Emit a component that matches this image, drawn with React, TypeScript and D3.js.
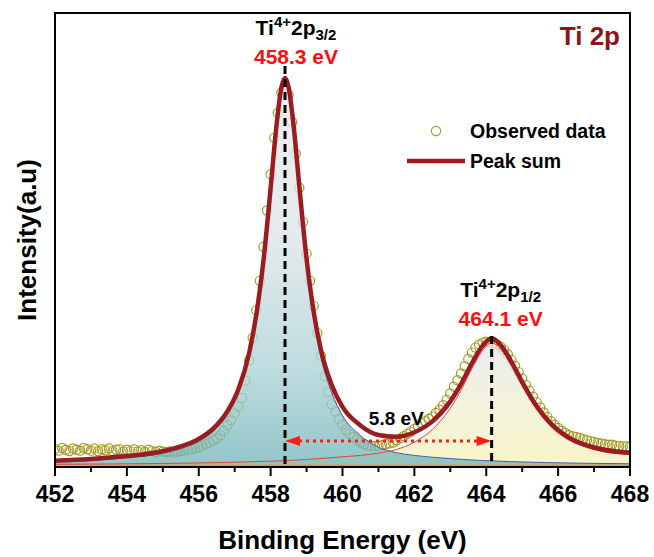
import React from 'react'
import * as d3 from 'd3'

// observed XPS counts, sampled every 0.1 eV from 452 eV
const obsStart = 452
const obsStep = 0.1
const observed = [
  4.0, 3.6, 4.2, 3.8, 3.5, 4.1, 3.8, 3.6, 4.2, 3.9,
  3.6, 4.1, 3.5, 3.9, 3.7, 4.1, 3.5, 3.8, 3.9, 3.4,
  3.8, 3.5, 3.9, 3.4, 3.7, 3.3, 3.8, 3.5, 3.3, 3.6,
  3.4, 3.3, 3.4, 3.2, 3.4, 3.5, 3.6, 3.8, 3.9, 4.1,
  4.4, 4.7, 5.0, 5.4, 5.9, 6.3, 7.0, 8.0, 9.2, 10.3,
  11.8, 13.3, 15.2, 19.0, 23.5, 28.5, 34.5, 41.0, 48.5, 56.5,
  64.5, 72.5, 78.0, 82.5, 84.0, 82.0, 76.0, 69.0, 61.5, 54.0,
  47.0, 41.0, 35.5, 29.5, 24.5, 20.0, 16.5, 13.8, 12.2, 10.6,
  9.3, 8.2, 7.3, 6.6, 5.9, 5.4, 5.0, 4.7, 4.6, 4.6,
  4.7, 4.8, 5.0, 5.2, 5.4, 5.9, 6.3, 6.8, 7.3, 7.8,
  8.4, 9.0, 9.6, 10.1, 10.6, 11.1, 11.9, 12.6, 13.6, 14.8,
  16.2, 17.7, 19.1, 20.6, 22.2, 23.8, 25.2, 26.3, 27.0, 27.4,
  27.6, 27.5, 27.3, 27.0, 26.5, 25.8, 24.8, 23.6, 22.3, 20.9,
  19.5, 18.1, 16.8, 15.5, 14.3, 13.1, 12.0, 11.0, 10.1, 9.3,
  8.6, 8.0, 7.5, 7.0, 6.8, 6.6, 6.4, 6.1, 5.9, 5.7,
  5.5, 5.3, 5.2, 5.0, 4.9, 4.9, 4.7, 4.6, 4.5, 4.5,
  4.4,
]

// fitted components
const compEnergy = [
  452, 453, 454, 455, 455.5, 456, 456.4, 456.8, 457.1, 457.4, 457.6, 457.8,
  458.0, 458.15, 458.3, 458.4, 458.5, 458.65, 458.8, 459.0, 459.2, 459.4,
  459.7, 460.0, 460.5, 461, 461.5, 462, 462.5, 463, 463.3, 463.6, 463.9,
  464.15, 464.4, 464.7, 465, 465.4, 465.8, 466.3, 467, 468,
]
const peak32 = [
  0.8, 1.1, 1.7, 2.7, 3.7, 5.3, 7.5, 11.3, 16.0, 23.9, 32.3, 44.2,
  60.1, 72.9, 82.2, 84.3, 82.2, 72.9, 60.1, 44.2, 32.3, 23.9,
  16.0, 11.0, 6.6, 4.0, 2.8, 2.2, 1.8, 1.5, 1.35, 1.2, 1.08,
  1.0, 0.92, 0.83, 0.76, 0.68, 0.61, 0.53, 0.45, 0.36,
]
const peak12 = [
  0.25, 0.29, 0.35, 0.43, 0.48, 0.54, 0.6, 0.66, 0.72, 0.78, 0.83, 0.88,
  0.93, 0.98, 1.03, 1.06, 1.1, 1.16, 1.22, 1.31, 1.42, 1.53,
  1.7, 1.9, 2.2, 2.7, 3.5, 5.1, 7.9, 12.6, 16.6, 21.3, 25.3,
  27.0, 25.6, 22.0, 17.6, 12.4, 8.6, 5.6, 3.5, 2.4,
]
const baselineLevel = 0.35

const majorTicks = [452, 454, 456, 458, 460, 462, 464, 466, 468]
const minorTicks = [453, 455, 457, 459, 461, 463, 465, 467]

const peakLabels = [
  { center: 458.4, sub: '3/2', value: '458.3 eV', top: 66, nameY: 35, valueY: 64, dx: 11 },
  { center: 464.15, sub: '1/2', value: '464.1 eV', top: 336, nameY: 297, valueY: 326, dx: 9 },
]
const splitting = '5.8 eV'

const W = 654
const H = 557
const left = 55
const right = 630
const top = 13
const bottom = 467
const font = 'Arial, "Liberation Sans", sans-serif'

export default function App() {
  const x = d3.scaleLinear().domain([452, 468]).range([left, right])
  const y = d3.scaleLinear().domain([0, 100]).range([bottom, top])

  const obsPoints = observed.map((v, i) => ({ e: obsStart + i * obsStep, v }))
  const comps = compEnergy.map((e, i) => ({ e, a: peak32[i], b: peak12[i] }))

  const areaA = d3
    .area<any>()
    .x((d) => x(d.e))
    .y0(y(baselineLevel))
    .y1((d) => y(baselineLevel + d.a))
    .curve(d3.curveMonotoneX)
  const areaB = d3
    .area<any>()
    .x((d) => x(d.e))
    .y0(y(baselineLevel))
    .y1((d) => y(baselineLevel + d.b))
    .curve(d3.curveMonotoneX)
  const lineA = d3
    .line<any>()
    .x((d) => x(d.e))
    .y((d) => y(baselineLevel + d.a))
    .curve(d3.curveMonotoneX)
  const lineB = d3
    .line<any>()
    .x((d) => x(d.e))
    .y((d) => y(baselineLevel + d.b))
    .curve(d3.curveMonotoneX)
  const sumLine = d3
    .line<any>()
    .x((d) => x(d.e))
    .y((d) => y(baselineLevel + d.a + d.b))
    .curve(d3.curveMonotoneX)

  const xa = x(peakLabels[0].center)
  const xb = x(peakLabels[1].center)
  const arrowY = 441

  return (
    <svg
      width={W}
      height={H}
      style={{ position: 'absolute', left: 0, top: 0, background: '#fff' }}
      fontFamily={font}
      fontWeight="bold"
    >
      <defs>
        <clipPath id="plot">
          <rect x={left} y={top} width={right - left} height={bottom - top} />
        </clipPath>
        <linearGradient id="g32" gradientUnits="userSpaceOnUse" x1="0" y1="80" x2="0" y2={bottom}>
          <stop offset="0" stopColor="#ebebee" />
          <stop offset="0.4" stopColor="#dde4e7" />
          <stop offset="0.75" stopColor="#acd2d5" />
          <stop offset="1" stopColor="#74b5ba" />
        </linearGradient>
        <linearGradient id="g12" gradientUnits="userSpaceOnUse" x1="0" y1="338" x2="0" y2={bottom}>
          <stop offset="0" stopColor="#e2e4ee" />
          <stop offset="0.45" stopColor="#eeeed4" />
          <stop offset="1" stopColor="#f6f1b6" />
        </linearGradient>
      </defs>

      <g clipPath="url(#plot)">
        {obsPoints.map((d, i) => (
          <circle
            key={i}
            cx={x(d.e)}
            cy={y(d.v)}
            r={4.6}
            fill="none"
            stroke="#a49a22"
            strokeWidth={1.2}
          />
        ))}
        <path d={areaB(comps) || ''} fill="url(#g12)" opacity={0.75} />
        <path d={areaA(comps) || ''} fill="url(#g32)" opacity={0.78} />
        <line x1={left} x2={right} y1={y(baselineLevel)} y2={y(baselineLevel)} stroke="#e89c35" strokeWidth={1.6} />
        <path d={lineB(comps) || ''} fill="none" stroke="#e8413c" strokeWidth={1} />
        <path d={lineA(comps) || ''} fill="none" stroke="#4a5aa8" strokeWidth={1} />
        <path d={sumLine(comps) || ''} fill="none" stroke="#9b1c20" strokeWidth={4.5} />
      </g>

      {/* peak markers */}
      {peakLabels.map((p) => (
        <g key={p.value}>
          <line
            x1={x(p.center)}
            x2={x(p.center)}
            y1={p.top}
            y2={bottom}
            stroke="#000"
            strokeWidth={3}
            strokeDasharray="8,5"
          />
          <text x={x(p.center) + p.dx} y={p.nameY} textAnchor="middle" fontSize={21} fill="#000">
            <tspan>Ti</tspan>
            <tspan dy={-8} fontSize={15}>4+</tspan>
            <tspan dy={8}>2p</tspan>
            <tspan dy={5} fontSize={15}>{p.sub}</tspan>
          </text>
          <text x={x(p.center) + p.dx} y={p.valueY} textAnchor="middle" fontSize={21} fill="#ff0d0d">
            {p.value}
          </text>
        </g>
      ))}

      {/* splitting arrow */}
      <line
        x1={xa + 14}
        x2={xb - 14}
        y1={arrowY}
        y2={arrowY}
        stroke="#ff1a1a"
        strokeWidth={3}
        strokeDasharray="3,4"
      />
      <path d={`M${xa},${arrowY} L${xa + 15},${arrowY - 5} L${xa + 15},${arrowY + 5} Z`} fill="#ff1a1a" />
      <path d={`M${xb},${arrowY} L${xb - 15},${arrowY - 5} L${xb - 15},${arrowY + 5} Z`} fill="#ff1a1a" />
      <text x={(xa + xb) / 2 + 8} y={425} textAnchor="middle" fontSize={19} fill="#000">
        {splitting}
      </text>

      {/* frame */}
      <rect x={left} y={top} width={right - left} height={bottom - top} fill="none" stroke="#000" strokeWidth={2} />

      {/* x axis */}
      {majorTicks.map((t) => (
        <g key={t}>
          <line x1={x(t)} x2={x(t)} y1={bottom} y2={bottom + 9} stroke="#000" strokeWidth={2} />
          <text x={x(t)} y={502} textAnchor="middle" fontSize={23} fill="#000">
            {t}
          </text>
        </g>
      ))}
      {minorTicks.map((t) => (
        <line key={t} x1={x(t)} x2={x(t)} y1={bottom} y2={bottom + 5} stroke="#000" strokeWidth={2} />
      ))}

      <text x={(left + right) / 2} y={549} textAnchor="middle" fontSize={26} fill="#000">
        Binding Energy (eV)
      </text>
      <text
        transform={`translate(36,${(top + bottom) / 2}) rotate(-90)`}
        textAnchor="middle"
        fontSize={26}
        fill="#000"
      >
        Intensity(a.u)
      </text>

      {/* title */}
      <text x={620} y={45} textAnchor="end" fontSize={26} fill="#8b1518">
        Ti 2p
      </text>

      {/* legend */}
      <circle cx={436} cy={131} r={4.6} fill="none" stroke="#a49a22" strokeWidth={1.2} />
      <text x={470} y={138} fontSize={19.5} fill="#000">
        Observed data
      </text>
      <line x1={407} x2={465} y1={161} y2={161} stroke="#9b1c20" strokeWidth={4.5} />
      <text x={470} y={168} fontSize={19.5} fill="#000">
        Peak sum
      </text>
    </svg>
  )
}
